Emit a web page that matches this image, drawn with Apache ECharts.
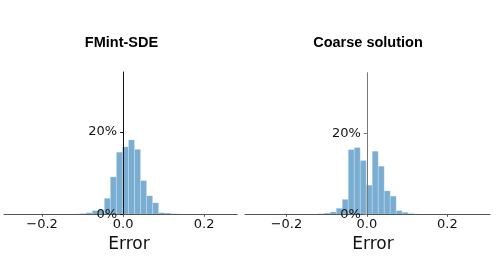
<!DOCTYPE html>
<html>
<head>
<meta charset="utf-8">
<script src="https://cdn.jsdelivr.net/npm/echarts@6/dist/echarts.min.js"></script>
<style>html,body{margin:0;padding:0;background:#fff;}#c{width:498px;height:280px;}</style>
</head>
<body>
<div id="c"></div>
<script>
// Bin left/right edges (Error) shared by both panels
const binStarts = [-0.1357,-0.1208,-0.1059,-0.0910,-0.0761,-0.0612,-0.0463,-0.0314,-0.0165,-0.0016,0.0133,0.0282,0.0431,0.0580,0.0729,0.0878,0.1027,0.1176,0.1325];
const binEnds   = [-0.1208,-0.1059,-0.0910,-0.0761,-0.0612,-0.0463,-0.0314,-0.0165,-0.0016,0.0133,0.0282,0.0431,0.0580,0.0729,0.0878,0.1027,0.1176,0.1325,0.1474];
// Percent of samples per bin
const fmintValues  = [0.05,0.1,0.2,0.4,0.9,1.1,3.9,9.1,15.1,16.4,18.1,15.8,8.2,4.5,2.8,0.4,0.3,0.15,0.1];
const coarseValues = [0.05,0.15,0.3,0.6,1.5,3.7,16.0,16.5,13.3,7.2,15.6,11.9,5.8,4.5,0.9,0.5,0.2,0.1,0.0];
const xTickValues = [-0.2, 0, 0.2];
const yTickValues = [0, 20];
const titles = ['FMint-SDE', 'Coarse solution'];
const xLabel = 'Error';

const chart = echarts.init(document.getElementById('c'), null, {renderer: 'canvas'});
const barColor = 'rgb(121,173,210)';

function rows(vals) {
  return vals.map((v, i) => [binStarts[i], binEnds[i], v]);
}
function renderItem(params, api) {
  const p0 = api.coord([api.value(0), api.value(2)]);
  const p1 = api.coord([api.value(1), 0]);
  return {
    type: 'rect',
    shape: {x: p0[0], y: p0[1], width: p1[0] - p0[0], height: p1[1] - p0[1]},
    style: {fill: barColor, stroke: 'rgba(255,255,255,0.35)', lineWidth: 0.6}
  };
}
function xAxisCfg(idx, min, max) {
  return {
    type: 'value', gridIndex: idx, min: min, max: max, z: 3,
    splitLine: {show: false},
    axisLine: {show: true, onZero: false, lineStyle: {color: '#555', width: 1}},
    axisTick: {show: true, length: 2.5, lineStyle: {color: '#555'}, customValues: xTickValues},
    axisLabel: {
      customValues: xTickValues, margin: 4,
      fontFamily: 'DejaVu Sans', fontSize: 13, color: '#111',
      formatter: v => (v < 0 ? '\u2212' : '') + Math.abs(v).toFixed(1)
    }
  };
}
function yAxisCfg(idx, max, color) {
  return {
    type: 'value', gridIndex: idx, min: 0, max: max, z: 3, position: 'left', offset: 0,
    splitLine: {show: false},
    axisLine: {show: true, onZero: false, lineStyle: {color: color, width: 1}},
    axisTick: {show: true, length: 3, lineStyle: {color: color}, customValues: yTickValues},
    axisLabel: {
      customValues: yTickValues, margin: 6,
      fontFamily: 'DejaVu Sans', fontSize: 13, color: '#111',
      formatter: v => Math.round(v) + '%'
    }
  };
}

const gridLefts = [4, 245];
chart.setOption({
  animation: false,
  backgroundColor: '#fff',
  grid: [
    {left: gridLefts[0], width: 233.3, top: 72, height: 142.3, outerBoundsMode: 'none'},
    {left: gridLefts[1], width: 245, top: 72.7, height: 141.6, outerBoundsMode: 'none'}
  ],
  xAxis: [xAxisCfg(0, -0.294, 0.282), xAxisCfg(1, -0.303, 0.306)],
  yAxis: [yAxisCfg(0, 34.6, '#111'), yAxisCfg(1, 35, '#777')],
  series: [
    {type: 'custom', xAxisIndex: 0, yAxisIndex: 0, renderItem: renderItem, data: rows(fmintValues), encode: {x: [0, 1], y: 2}, z: 2},
    {type: 'custom', xAxisIndex: 1, yAxisIndex: 1, renderItem: renderItem, data: rows(coarseValues), encode: {x: [0, 1], y: 2}, z: 2}
  ],
  graphic: [
    {type: 'text', x: 121.5, y: 43, style: {text: titles[0], font: 'bold 14.5px "Liberation Sans", Arial, sans-serif', fill: '#000', textAlign: 'center', textVerticalAlign: 'middle'}},
    {type: 'text', x: 368, y: 43, style: {text: titles[1], font: 'bold 14.5px "Liberation Sans", Arial, sans-serif', fill: '#000', textAlign: 'center', textVerticalAlign: 'middle'}},
    {type: 'text', x: 129, y: 245, style: {text: xLabel, font: '17px "DejaVu Sans"', fill: '#111', textAlign: 'center', textVerticalAlign: 'middle'}},
    {type: 'text', x: 373, y: 245, style: {text: xLabel, font: '17px "DejaVu Sans"', fill: '#111', textAlign: 'center', textVerticalAlign: 'middle'}}
  ]
});
// Move each y axis onto x = 0 of its panel (spine at zero), labels follow
const offsets = [0, 1].map(i => {
  const px = chart.convertToPixel({xAxisIndex: i}, 0);
  return -(px - gridLefts[i]);
});
chart.setOption({yAxis: [{offset: offsets[0]}, {offset: offsets[1]}]});
</script>
</body>
</html>
